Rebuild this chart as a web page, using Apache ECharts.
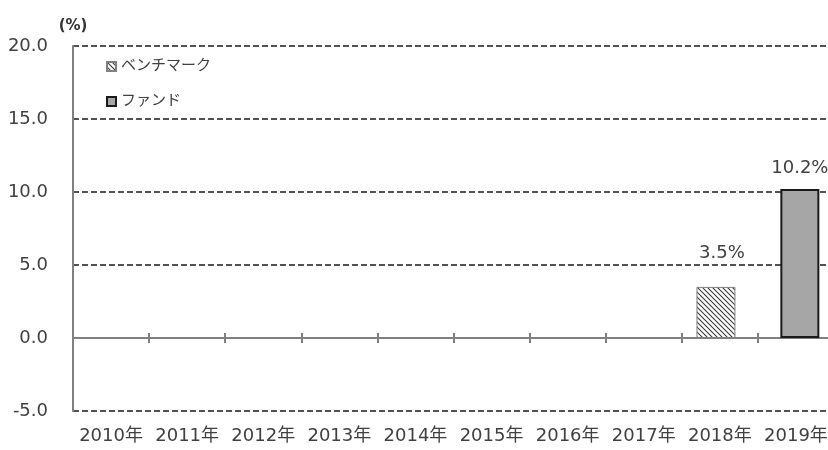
<!DOCTYPE html>
<html><head><meta charset="utf-8">
<script src="https://cdn.jsdelivr.net/npm/echarts@6/dist/echarts.min.js"></script>
<style>html,body{margin:0;padding:0;background:#fff;overflow:hidden;width:828px;height:450px}#c{width:840px;height:450px}</style>
</head><body><div id="c"></div>
<script>
const categories = ['2010年','2011年','2012年','2013年','2014年','2015年','2016年','2017年','2018年','2019年'];
const benchmark = [null,null,null,null,null,null,null,null,3.5,null];
const fund = [null,null,null,null,null,null,null,null,null,10.2];
const yTicks = [-5, 0, 5, 10, 15, 20];

const FONT = "'DejaVu Sans','Noto Sans CJK JP',sans-serif";
const pc = document.createElement('canvas');
pc.width = 5; pc.height = 5;
const g = pc.getContext('2d');
g.fillStyle = '#ffffff'; g.fillRect(0,0,5,5);
g.strokeStyle = '#3a3a3a'; g.lineWidth = 1.1;
[-5,0,5].forEach(o => { g.beginPath(); g.moveTo(o-1,-1); g.lineTo(o+6,6); g.stroke(); });
const hatch = {image: pc, repeat: 'repeat'};

const chart = echarts.init(document.getElementById('c'), null, {renderer:'canvas'});
const axisLineStyle = {color:'#808080', width:2};
const yMin = yTicks[0], yMax = yTicks[yTicks.length-1];
chart.setOption({
  animation:false,
  textStyle:{fontFamily:FONT},
  grid:{left:73, right:6, top:46, bottom:39},
  legend:{
    orient:'vertical', left:101, top:54, itemGap:20, itemWidth:9, itemHeight:9, icon:'rect',
    textStyle:{fontSize:15, color:'#404040', fontFamily:FONT},
    data:['ベンチマーク','ファンド']
  },
  xAxis:[
    {type:'category', data:categories, position:'bottom',
     axisLine:{show:false, onZero:false}, axisTick:{show:false},
     axisLabel:{fontSize:18, color:'#404040', margin:16, fontFamily:FONT, interval:0}},
    {type:'category', data:categories, position:'bottom',
     axisLine:{show:true, onZero:true, onZeroAxisIndex:0, lineStyle:axisLineStyle},
     axisTick:{show:true, length:5, lineStyle:axisLineStyle}, axisLabel:{show:false}},
    {type:'category', data:categories, position:'top',
     axisLine:{show:true, onZero:true, onZeroAxisIndex:1, lineStyle:axisLineStyle},
     axisTick:{show:true, length:5, lineStyle:axisLineStyle}, axisLabel:{show:false}}
  ],
  yAxis:[{
    type:'value', min:yMin, max:yMax, interval:5,
    name:'(%)', nameLocation:'end', nameGap:12,
    nameTextStyle:{fontSize:15, fontWeight:'bold', color:'#333', align:'center', fontFamily:FONT},
    axisLine:{show:true, lineStyle:axisLineStyle}, axisTick:{show:false},
    axisLabel:{fontSize:18, color:'#404040', margin:25, formatter:v=>v.toFixed(1), fontFamily:FONT},
    splitLine:{show:true, lineStyle:{color:'#1a1a1a', width:1.5, type:[6,3]}}
  },{
    type:'value', min:yMin, max:yMax, interval:5, show:false, splitLine:{show:false}
  }],
  series:[
    {name:'ベンチマーク', type:'bar', xAxisIndex:0, yAxisIndex:0, data:benchmark, barWidth:39, barGap:'-80%',
     itemStyle:{color:hatch, borderColor:'#808080', borderWidth:1},
     label:{show:true, position:'top', distance:25, offset:[6,0], fontSize:18, color:'#404040', fontFamily:FONT,
       formatter:p=>p.value==null?'':p.value.toFixed(1)+'%'}},
    {name:'ファンド', type:'bar', xAxisIndex:0, yAxisIndex:0, data:fund, barWidth:39, barGap:'-80%',
     itemStyle:{color:'#a6a6a6', borderColor:'#1a1a1a', borderWidth:2},
     label:{show:true, position:'top', distance:12, fontSize:18, color:'#404040', fontFamily:FONT,
       formatter:p=>p.value==null?'':p.value.toFixed(1)+'%'}}
  ]
});
</script></body></html>
